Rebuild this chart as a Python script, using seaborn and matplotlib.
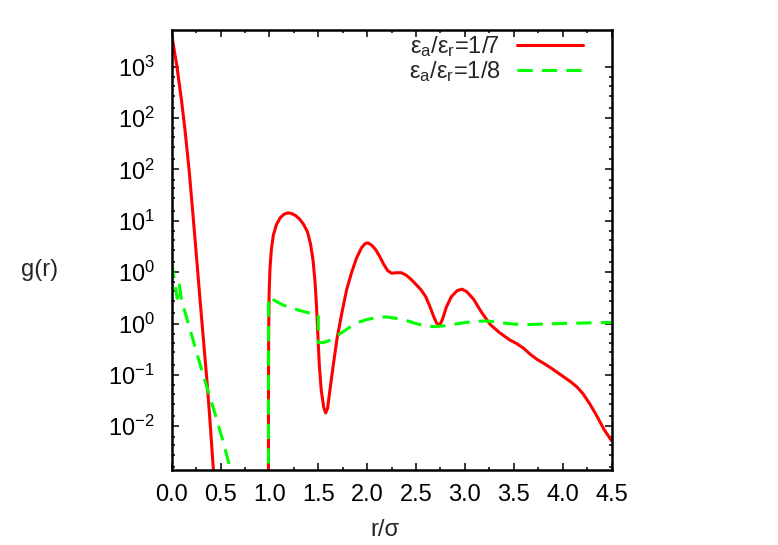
import matplotlib
matplotlib.use("Agg")
import matplotlib.pyplot as plt
import matplotlib.ticker as mticker
import seaborn as sns

# y values are given in axis units: one unit per labelled major tick
# (0 -> "10^-2" ... 7 -> "10^3"), as the axis is drawn in the original
ytick_labels = ["$10^{-2}$", "$10^{-1}$", "$10^{0}$", "$10^{0}$",
                "$10^{1}$", "$10^{2}$", "$10^{2}$", "$10^{3}$"]
minor_frac = [0.2, 0.44, 0.63, 0.8]
xtick_vals = [0.0, 0.5, 1.0, 1.5, 2.0, 2.5, 3.0, 3.5, 4.0, 4.5]

# eps_a/eps_r = 1/7
r7_core = [0.0, 0.05, 0.1, 0.136, 0.18, 0.218, 0.255, 0.29, 0.325, 0.36, 0.39, 0.423, 0.45]
g7_core = [7.62, 7.05, 6.35, 5.77, 4.95, 4.11, 3.27, 2.46, 1.68, 0.90, 0.15, -0.75, -1.45]
r7_shell = [0.99, 0.99, 0.992, 0.997, 1.005, 1.02, 1.04, 1.07, 1.11, 1.15, 1.19,
            1.23, 1.27, 1.31, 1.35, 1.39, 1.42, 1.445, 1.465, 1.48, 1.495, 1.51,
            1.53, 1.555, 1.575, 1.595, 1.62, 1.65, 1.69, 1.74, 1.79, 1.84, 1.89,
            1.94, 1.98, 2.01, 2.05, 2.09, 2.13, 2.17, 2.21, 2.25, 2.3, 2.35, 2.4,
            2.45, 2.5, 2.55, 2.6, 2.64, 2.68, 2.71, 2.74, 2.77, 2.81, 2.86, 2.92,
            2.97, 3.02, 3.09, 3.17, 3.26, 3.35, 3.46, 3.53, 3.6, 3.67, 3.74, 3.82,
            3.9, 3.99, 4.08, 4.15, 4.21, 4.28, 4.35, 4.42, 4.5]
g7_shell = [-1.2, 0.5, 1.8, 2.6, 3.05, 3.45, 3.72, 3.92, 4.06, 4.13, 4.155,
            4.14, 4.1, 4.03, 3.93, 3.78, 3.55, 3.25, 2.85, 2.4, 1.8, 1.2,
            0.7, 0.37, 0.26, 0.35, 0.72, 1.15, 1.69, 2.2, 2.66, 2.99, 3.27,
            3.47, 3.56, 3.57, 3.52, 3.43, 3.3, 3.15, 3.03, 2.98, 2.99, 2.99, 2.94,
            2.86, 2.76, 2.66, 2.52, 2.34, 2.14, 2.01, 1.96, 2.08, 2.32, 2.52, 2.64,
            2.67, 2.62, 2.47, 2.22, 1.98, 1.83, 1.68, 1.61, 1.52, 1.40, 1.30, 1.21,
            1.11, 0.99, 0.87, 0.76, 0.63, 0.43, 0.2, -0.05, -0.28]

# eps_a/eps_r = 1/8
r8_core = [0.0, 0.057, 0.078, 0.10, 0.12, 0.22, 0.32, 0.43, 0.53, 0.62]
g8_core = [3.18, 2.49, 2.75, 2.46, 2.33, 1.67, 1.01, 0.33, -0.32, -0.98]
r8_shell = [0.99, 0.99, 1.0, 1.06, 1.13, 1.21, 1.3, 1.4, 1.48, 1.5, 1.5, 1.55,
            1.6, 1.69, 1.8, 1.9, 2.0, 2.1, 2.2, 2.3, 2.4, 2.5, 2.6, 2.7, 2.8,
            2.9, 3.0, 3.1, 3.2, 3.3, 3.4, 3.5, 3.63, 3.8, 3.97, 4.2, 4.42, 4.5]
g8_shell = [-1.2, 2.5, 2.52, 2.44, 2.37, 2.31, 2.26, 2.21, 2.18, 2.17, 1.63, 1.63,
            1.66, 1.76, 1.9, 2.02, 2.08, 2.12, 2.13, 2.1, 2.06, 2.0, 1.95, 1.94, 1.96,
            1.99, 2.02, 2.04, 2.05, 2.04, 2.01, 1.99, 1.98, 1.99, 2.0, 2.01, 2.02, 2.02]

sns.set_style("white")
plt.rcParams["font.family"] = ["Liberation Sans", "DejaVu Sans"]
plt.rcParams["mathtext.fontset"] = "custom"
plt.rcParams["mathtext.rm"] = "Liberation Sans"
plt.rcParams["mathtext.it"] = "Liberation Sans"
fs = 17

fig = plt.figure(figsize=(7.78, 5.45), dpi=100)
ax = fig.add_axes([0.2207, 0.1376, 0.5653, 0.8073])

red = "#ff0000"
green = "#00ff00"
dash = (0, (5, 3))

sns.lineplot(x=r7_core, y=g7_core, sort=False, estimator=None, color=red, lw=2.2, ax=ax)
sns.lineplot(x=r7_shell, y=g7_shell, sort=False, estimator=None, color=red, lw=2.2,
             ax=ax, label=r"ε$_\mathrm{a}$/ε$_\mathrm{r}$=1/7")
sns.lineplot(x=r8_core, y=g8_core, sort=False, estimator=None, color=green, lw=2.2,
             linestyle=dash, ax=ax)
sns.lineplot(x=r8_shell, y=g8_shell, sort=False, estimator=None, color=green, lw=2.2,
             linestyle=dash, ax=ax, label=r"ε$_\mathrm{a}$/ε$_\mathrm{r}$=1/8")

ax.set_xlim(0, 4.5)
ax.set_ylim(-0.851, 7.715)

ax.xaxis.set_major_locator(mticker.FixedLocator(xtick_vals))
ax.xaxis.set_major_formatter(mticker.FormatStrFormatter("%.1f"))
ax.xaxis.set_minor_locator(mticker.MultipleLocator(0.25))
ax.yaxis.set_major_locator(mticker.FixedLocator(range(len(ytick_labels))))
ax.set_yticklabels(ytick_labels)
ax.yaxis.set_minor_locator(mticker.FixedLocator(
    [k + f for k in range(-1, len(ytick_labels) - 1) for f in minor_frac]))

ax.tick_params(which="both", direction="in", top=True, right=True,
               bottom=True, left=True, colors="black", labelsize=fs)
ax.tick_params(which="major", length=5, width=1.1)
ax.tick_params(which="minor", length=2.5, width=1.1)
ax.tick_params(axis="x", which="major", pad=10)
ax.tick_params(axis="y", which="major", pad=12)
for s in ax.spines.values():
    s.set_linewidth(1.8)
    s.set_color("black")

ax.set_xlabel("r/σ", fontsize=fs, va="center")
ax.xaxis.set_label_coords(0.485, -0.136)
ax.set_ylabel("g(r)", fontsize=fs, rotation=0, va="center", ha="center")
ax.yaxis.set_label_coords(-0.30, 0.455)

ax.legend(loc="upper right", bbox_to_anchor=(0.935, 0.99), frameon=False,
          fontsize=fs, handlelength=2.8, handletextpad=0.7, borderaxespad=0,
          borderpad=0, labelspacing=0.0, markerfirst=False)

fig.savefig("out.png", dpi=100)
